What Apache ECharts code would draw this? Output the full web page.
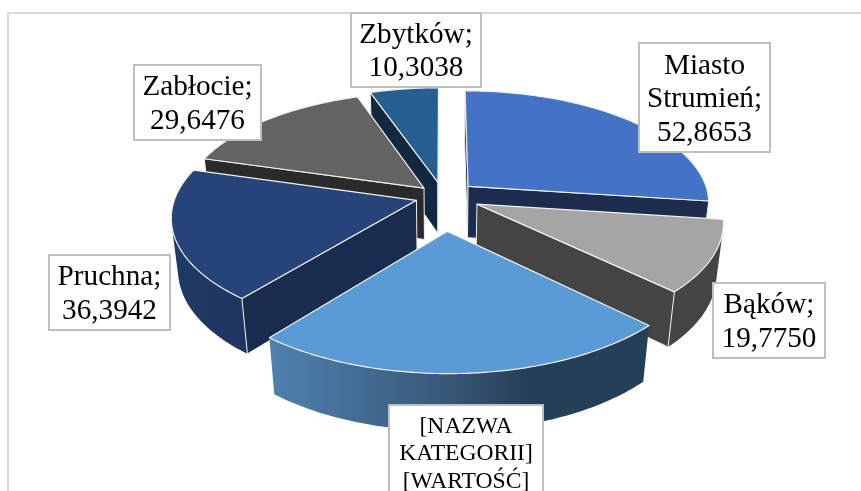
<!DOCTYPE html>
<html><head><meta charset="utf-8">
<style>html,body{margin:0;padding:0;background:#fff}#c{width:861px;height:491px}</style>
<script src="https://cdn.jsdelivr.net/npm/echarts@6/dist/echarts.min.js"></script></head>
<body><div id="c"></div>
<script>
const categories = ['Miasto Strumień','Bąków','[NAZWA KATEGORII]','Pruchna','Zabłocie','Zbytków'];
const values = [52.8653,19.7750,46,36.3942,29.6476,10.3038];
const labelLines = [
  ['Miasto','Strumień;','52,8653'],
  ['Bąków;','19,7750'],
  ['[NAZWA','KATEGORII]','[WARTOŚĆ]'],
  ['Pruchna;','36,3942'],
  ['Zabłocie;','29,6476'],
  ['Zbytków;','10,3038']
];
const labelBoxes = [[639,43,131,109,29.2,33.5],[713,283,112,75,29.2,33.5],[389,405,154,100,23.6,27.5],[49,255,121,75,29.2,33.5],[134,65,127,75,29.2,33.5],[351,13,130,74,29.2,33.5]];
const explode = [0.14,0.155,0.30,0.115,0.11,0.13];
const topColors = ['#4472C4','#A5A5A5','#5B9BD5','#264478','#636363','#255E91'];
const radialColors = ['#1B2C4F','#444444','#23405A','#192C50','#2A2A2A','#12283F'];
const wallColors = [
  '#1B2C4F','#444444',
  {type:'linear',x:0,y:0,x2:1,y2:0,colorStops:[{offset:0,color:'#4E82B0'},{offset:0.45,color:'#39597A'},{offset:0.68,color:'#243F58'},{offset:1,color:'#243F58'}]},
  {type:'linear',x:0,y:0,x2:1,y2:0,colorStops:[{offset:0,color:'#1F3A67'},{offset:1,color:'#1E355F'}]},
  '#2A2A2A','#12283F'
];
const drawOrder = [5,0,4,3,1,2];
const CX=443, CY=196.5, RX=241, RY=111.5, K=0.14, H=53, Q=0.025;
const total = values.reduce((a,b)=>a+b,0);
let acc=0;
const spans = values.map(v=>{const s=acc/total*2*Math.PI;acc+=v;return [s,acc/total*2*Math.PI];});
function proj(u,v,low){const w=1-K*v+(low?Q:0);return [CX+RX*u/w, CY+(RY*v+(low?H:0))/w];}
function area(p){let a=0;for(let i=0;i<p.length;i++){const q=p[(i+1)%p.length];a+=p[i][0]*q[1]-q[0]*p[i][1];}return a;}
function slice(params,api){
  const i=api.value(0);
  const [s,e]=spans[i];const m=(s+e)/2;
  const ou=explode[i]*Math.sin(m),ov=-explode[i]*Math.cos(m);
  const rim=[];const N=Math.max(8,Math.round((e-s)/0.02));
  for(let k=0;k<=N;k++){const t=s+(e-s)*k/N;rim.push([ou+Math.sin(t),ov-Math.cos(t)]);}
  const apex=[ou,ov];
  const children=[];
  const poly=(pts,fill,stroke,lw)=>children.push({type:'polygon',shape:{points:pts},style:{fill:fill,stroke:stroke||null,lineWidth:lw||0,lineJoin:'round'}});
  let run=[];const flush=()=>{if(run.length>1){const up=run.map(p=>proj(p[0],p[1],false));const dn=run.map(p=>proj(p[0],p[1],true)).reverse();poly(up.concat(dn),wallColors[i]);}run=[];};
  for(let k=0;k<N;k++){
    const a=rim[k],b=rim[k+1];
    const q=[proj(a[0],a[1]),proj(b[0],b[1]),proj(b[0],b[1],true),proj(a[0],a[1],true)];
    if(area(q)<0){if(!run.length)run.push(a);run.push(b);}else flush();
  }
  flush();
  const fa=[proj(apex[0],apex[1]),proj(rim[0][0],rim[0][1]),proj(rim[0][0],rim[0][1],true),proj(apex[0],apex[1],true)];
  const fb=[proj(rim[N][0],rim[N][1]),proj(apex[0],apex[1]),proj(apex[0],apex[1],true),proj(rim[N][0],rim[N][1],true)];
  [fa,fb].forEach(f=>{if(area(f)<0)poly(f,radialColors[i],'#F0F0F0',1);});
  poly([proj(apex[0],apex[1])].concat(rim.map(p=>proj(p[0],p[1]))),topColors[i],'#F0F0F0',1.2);
  return {type:'group',children:children};
}
const graphics=[{type:'rect',shape:{x:8,y:13,width:900,height:520},style:{fill:'#fff',stroke:'#D9D9D9',lineWidth:2},z:0,silent:true}];
labelLines.forEach((ls,i)=>{
  const b=labelBoxes[i];
  graphics.push({type:'rect',shape:{x:b[0],y:b[1],width:b[2],height:b[3]},style:{fill:'#fff',stroke:'#BFBFBF',lineWidth:2},z:100});
  const top=b[1]+b[3]/2-(ls.length*b[5])/2+2;
  const y0=(i===2)?b[1]+8:top;
  ls.forEach((t,j)=>graphics.push({type:'text',x:b[0]+b[2]/2,y:y0+j*b[5]+b[5]/2,z:101,style:{text:t,fill:'#000',font:b[4]+'px "Liberation Serif"',textAlign:'center',textVerticalAlign:'middle'}}));
});
const chart=echarts.init(document.getElementById('c'),null,{renderer:'canvas'});
chart.setOption({
  animation:false,
  backgroundColor:'#fff',
  graphic:graphics,
  series:[{type:'custom',coordinateSystem:'none',z:10,renderItem:slice,
    encode:{value:1,itemName:2},
    data:drawOrder.map(i=>({value:[i,values[i]],name:categories[i]}))}]
});
</script></body></html>
